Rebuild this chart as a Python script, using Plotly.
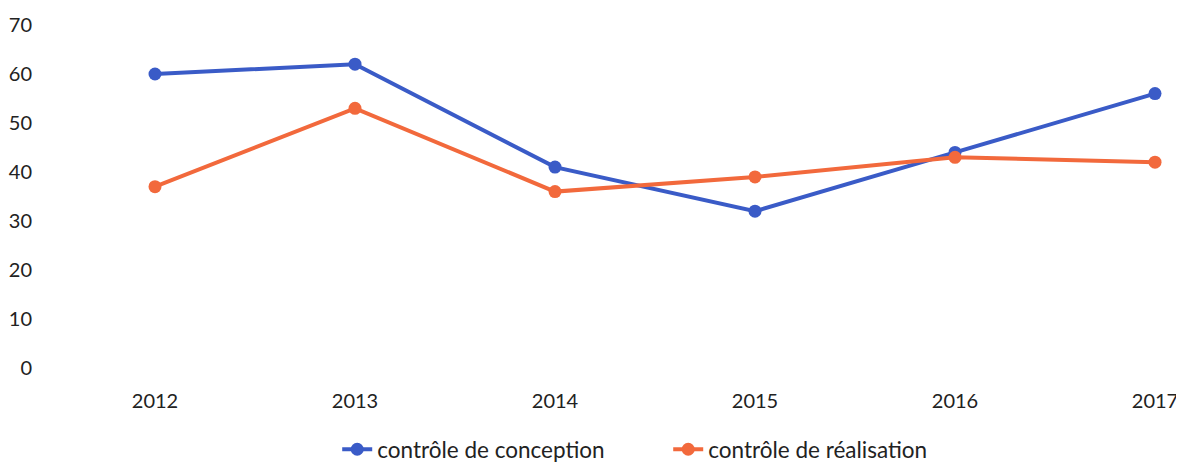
import plotly.graph_objects as go

years = [2012, 2013, 2014, 2015, 2016, 2017]
conception = [60, 62, 41, 32, 44, 56]
realisation = [37, 53, 36, 39, 43, 42]
y_ticks = [0, 10, 20, 30, 40, 50, 60, 70]

fig = go.Figure()
fig.add_trace(go.Scatter(x=years, y=conception, mode="lines+markers",
                         name="contrôle de conception",
                         line=dict(color="#3A5BC7", width=4),
                         marker=dict(size=13, color="#3A5BC7")))
fig.add_trace(go.Scatter(x=years, y=realisation, mode="lines+markers",
                         name="contrôle de réalisation",
                         line=dict(color="#F2693C", width=4),
                         marker=dict(size=13, color="#F2693C")))

fig.update_layout(
    width=1176, height=458,
    margin=dict(l=37, r=10, t=17, b=98, autoexpand=False),
    paper_bgcolor="white", plot_bgcolor="white",
    font=dict(family="Lato, Open Sans, sans-serif", size=20, color="#222222"),
    showlegend=True,
    legend=dict(orientation="h", x=0.552, xanchor="center",
                y=-0.238, yanchor="middle",
                font=dict(size=22.5), entrywidth=286, entrywidthmode="pixels",
                tracegroupgap=0),
    xaxis=dict(range=[2011.45, 2017.095], tickmode="array", tickvals=years,
               ticktext=[str(y) for y in years], showgrid=False, zeroline=False,
               showline=False, ticks="outside", ticklen=15, tickcolor="white",
               automargin=False),
    yaxis=dict(range=[0, 70], tickmode="array", tickvals=y_ticks, showgrid=False,
               zeroline=False, showline=False, ticks="outside", ticklen=8,
               tickcolor="white", automargin=False),
)
fig.write_html("out.html")
